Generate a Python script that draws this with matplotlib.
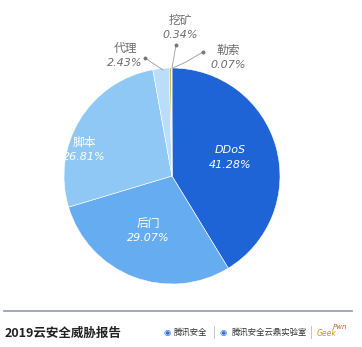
import matplotlib
matplotlib.use("Agg")
import matplotlib.pyplot as plt

plt.rcParams['font.family'] = ['Noto Sans CJK SC', 'DejaVu Sans']

categories = ["DDoS", "后门", "脚本", "代理", "挖矿", "勒索"]
values = [41.28, 29.07, 26.81, 2.43, 0.34, 0.07]
colors = ["#1f64d6", "#66acf0", "#8fc8f5", "#b9ddfa", "#d9b24a", "#9aa3ad"]

W, H = 362, 347
fig = plt.figure(figsize=(W / 100, H / 100), dpi=100)
ax = fig.add_axes([0, 0, 1, 1])

cx, cy, r = 172, H - 176, 108
wedges, _ = ax.pie(values, colors=colors, startangle=90, counterclock=False,
                   center=(cx, cy), radius=r, frame=True,
                   wedgeprops=dict(linewidth=0.4, edgecolor='white'))
ax.set_xlim(0, W)
ax.set_ylim(0, H)
ax.set_aspect('equal')
ax.axis('off')

numfont = dict(family=['DejaVu Sans'], style='italic', fontsize=8)

# inside labels
inside = {"DDoS": (230, 158), "后门": (148, 231), "脚本": (84, 150)}
for name, (x, y) in inside.items():
    i = categories.index(name)
    if name == "DDoS":
        ax.text(x, H - y + 8, name, ha='center', va='center', color='white', **numfont)
    else:
        ax.text(x, H - y + 8, name, ha='center', va='center', color='white', fontsize=8.5)
    ax.text(x, H - y - 7, f"{values[i]:.2f}%", ha='center', va='center',
            color='white', **numfont)

# outside labels with leader lines
grey = '#6e6e6e'
outside = {
    "代理": ((125, 48), [(163, 70), (145, 58)]),
    "挖矿": ((180, 20), [(172, 68), (176, 45)]),
    "勒索": ((228, 50), [(173, 68), (186, 62), (203, 52)]),
}
for name, ((x, y), pts) in outside.items():
    i = categories.index(name)
    ax.text(x, H - y, name, ha='center', va='center', color=grey, fontsize=8.5)
    ax.text(x, H - y - 15, f"{values[i]:.2f}%", ha='center', va='center',
            color=grey, **numfont)
    xs = [p[0] for p in pts]
    ys = [H - p[1] for p in pts]
    ax.plot(xs, ys, color='#9a9a9a', lw=0.6)
    ax.plot(xs[-1], ys[-1], 'o', color='#777777', ms=1.8)

# footer
ax.plot([4, 352], [H - 311, H - 311], color='#8d9ab0', lw=1.2)
ax.text(5, H - 333, "2019云安全威胁报告", ha='left', va='center', fontsize=9,
        fontweight='bold', color='#222222')
ax.text(163, H - 332, "◉", ha='left', va='center', fontsize=6, color='#2b6fe0',
        family=['DejaVu Sans'])
ax.text(174, H - 332, "腾讯安全", ha='left', va='center', fontsize=6, color='#333333')
ax.plot([214, 214], [H - 326, H - 338], color='#bbbbbb', lw=0.6)
ax.text(220, H - 332, "◉", ha='left', va='center', fontsize=6, color='#2b6fe0',
        family=['DejaVu Sans'])
ax.text(232, H - 332, "腾讯安全云鼎实验室", ha='left', va='center', fontsize=6, color='#333333')
ax.plot([311, 311], [H - 326, H - 338], color='#bbbbbb', lw=0.6)
ax.text(317, H - 334, "Geek", ha='left', va='center', fontsize=5.5, color='#c79a2a',
        style='italic', family=['DejaVu Sans'])
ax.text(333, H - 327, "Pwn", ha='left', va='center', fontsize=5, color='#d06030',
        style='italic', family=['DejaVu Sans'])

fig.savefig("out.png", dpi=100)
